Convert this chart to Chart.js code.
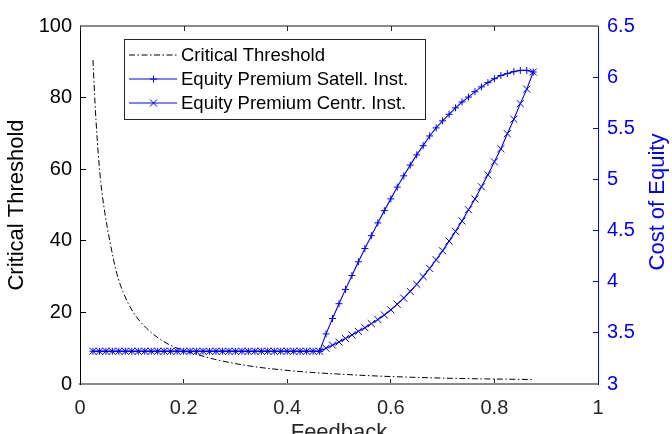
<!DOCTYPE html>
<html>
<head>
<meta charset="utf-8">
<script src="https://cdn.jsdelivr.net/npm/chart.js@4.4.0/dist/chart.umd.min.js"></script>
<style>
  html, body { margin: 0; padding: 0; background: #fff; overflow: hidden; }
</style>
</head>
<body>
<canvas id="chart" width="672" height="434"></canvas>
<script>
"use strict";

// critical threshold curve (left axis)
var ctX = [0.025, 0.029, 0.0335, 0.04, 0.048, 0.058, 0.071, 0.084, 0.103, 0.129, 0.161,
           0.193, 0.225, 0.257, 0.322, 0.386, 0.45, 0.515, 0.579, 0.714, 0.875];
var ctY = [90.5, 78.5, 67.8, 56.5, 47.8, 39.6, 30.9, 25.4, 20.0, 15.5, 11.9,
           9.7, 8.3, 7.0, 5.15, 4.0, 3.2, 2.65, 2.2, 1.6, 1.25];

// feedback values for the two equity premium series (right axis)
var feedback = [0.025, 0.0375, 0.05, 0.0625, 0.075, 0.0875, 0.1, 0.1125, 0.125, 0.1375,
                0.15, 0.1625, 0.175, 0.1875, 0.2, 0.2125, 0.225, 0.2375, 0.25, 0.2625,
                0.275, 0.2875, 0.3, 0.3125, 0.325, 0.3375, 0.35, 0.3625, 0.375, 0.3875,
                0.4, 0.4125, 0.425, 0.4375, 0.45, 0.4625, 0.475, 0.4875, 0.5, 0.5125,
                0.525, 0.5375, 0.55, 0.5625, 0.575, 0.5875, 0.6, 0.6125, 0.625, 0.6375,
                0.65, 0.6625, 0.675, 0.6875, 0.7, 0.7125, 0.725, 0.7375, 0.75, 0.7625,
                0.775, 0.7875, 0.8, 0.8125, 0.825, 0.8375, 0.85, 0.8625, 0.875];

var satell = [3.32, 3.32, 3.32, 3.32, 3.32, 3.32, 3.32, 3.32, 3.32, 3.32,
              3.32, 3.32, 3.32, 3.32, 3.32, 3.32, 3.32, 3.32, 3.32, 3.32,
              3.32, 3.32, 3.32, 3.32, 3.32, 3.32, 3.32, 3.32, 3.32, 3.32,
              3.32, 3.32, 3.32, 3.32, 3.32, 3.32, 3.49, 3.64, 3.785, 3.925,
              4.06, 4.195, 4.325, 4.45, 4.575, 4.695, 4.81, 4.925, 5.035, 5.14,
              5.24, 5.33, 5.425, 5.504, 5.573, 5.637, 5.70, 5.757, 5.805, 5.858,
              5.905, 5.947, 5.985, 6.016, 6.035, 6.054, 6.066, 6.066, 6.05];

var centr = [3.32, 3.32, 3.32, 3.32, 3.32, 3.32, 3.32, 3.32, 3.32, 3.32,
             3.32, 3.32, 3.32, 3.32, 3.32, 3.32, 3.32, 3.32, 3.32, 3.32,
             3.32, 3.32, 3.32, 3.32, 3.32, 3.32, 3.32, 3.32, 3.32, 3.32,
             3.32, 3.32, 3.32, 3.32, 3.32, 3.32, 3.35, 3.38, 3.41, 3.445,
             3.48, 3.515, 3.55, 3.59, 3.63, 3.675, 3.725, 3.78, 3.84, 3.905,
             3.975, 4.05, 4.13, 4.215, 4.302, 4.397, 4.492, 4.594, 4.704, 4.809,
             4.928, 5.046, 5.172, 5.30, 5.447, 5.589, 5.741, 5.883, 6.05];

var xTicks = [0, 0.2, 0.4, 0.6, 0.8, 1];
var xTickLabels = ["0", "0.2", "0.4", "0.6", "0.8", "1"];
var yTicks = [0, 20, 40, 60, 80, 100];
var y2Ticks = [3, 3.5, 4, 4.5, 5, 5.5, 6, 6.5];
var y2TickLabels = ["3", "3.5", "4", "4.5", "5", "5.5", "6", "6.5"];

var seriesNames = ["Critical Threshold", "Equity Premium Satell. Inst.", "Equity Premium Centr. Inst."];

var FONT = "'Liberation Sans', Arial, Helvetica, sans-serif";
var BLUE = "#0000ff";
var legendColors = ["#000000", BLUE, BLUE];
var legendMarkers = [null, "cross", "crossRot"];

function pairs(xs, ys) {
    return xs.map(function (x, i) { return { x: x, y: ys[i] }; });
}

function drawMarker(ctx, style, x, y, r) {
    ctx.beginPath();
    if (style === "cross") {
        ctx.moveTo(x - r, y); ctx.lineTo(x + r, y);
        ctx.moveTo(x, y - r); ctx.lineTo(x, y + r);
    } else {
        var d = r * Math.SQRT1_2;
        ctx.moveTo(x - d, y - d); ctx.lineTo(x + d, y + d);
        ctx.moveTo(x - d, y + d); ctx.lineTo(x + d, y - d);
    }
    ctx.stroke();
}

// top box line with inward ticks, right axis title, boxed legend
var decorations = {
    id: "decorations",
    afterDraw: function (chart) {
        var ctx = chart.ctx;
        var area = chart.chartArea;
        var xs = chart.scales.x;

        ctx.save();
        ctx.strokeStyle = "#8a8a8a";
        ctx.lineWidth = 2;
        ctx.beginPath();
        ctx.moveTo(area.left, area.top);
        ctx.lineTo(area.right, area.top);
        ctx.stroke();

        ctx.strokeStyle = "#262626";
        ctx.lineWidth = 1;
        xTicks.forEach(function (v) {
            var px = Math.round(xs.getPixelForValue(v)) + 0.5;
            ctx.beginPath();
            ctx.moveTo(px, area.top);
            ctx.lineTo(px, area.top + 5);
            ctx.stroke();
        });

        // right title reads bottom to top like the left one
        ctx.translate(chart.scales.y2.left + 60, (area.top + area.bottom) / 2 - 3);
        ctx.rotate(-Math.PI / 2);
        ctx.fillStyle = BLUE;
        ctx.font = "22px " + FONT;
        ctx.textAlign = "center";
        ctx.textBaseline = "middle";
        ctx.fillText("Cost of Equity", 0, 0);
        ctx.restore();

        // legend
        var bx = area.left + 44, by = area.top + 13, bw = 301, bh = 80;
        ctx.save();
        ctx.fillStyle = "#fff";
        ctx.fillRect(bx, by, bw, bh);
        ctx.strokeStyle = "#262626";
        ctx.lineWidth = 1;
        ctx.strokeRect(bx + 0.5, by + 0.5, bw, bh);

        ctx.font = "18.5px " + FONT;
        ctx.textBaseline = "middle";
        ctx.textAlign = "left";
        seriesNames.forEach(function (name, i) {
            var ds = chart.data.datasets[i];
            var ly = Math.round(by + 16 + i * 24);
            ctx.strokeStyle = legendColors[i];
            ctx.lineWidth = 1.1;
            ctx.setLineDash(i === 0 ? ds.borderDash : []);
            ctx.beginPath();
            ctx.moveTo(bx + 5, ly);
            ctx.lineTo(bx + 53, ly);
            ctx.stroke();
            ctx.setLineDash([]);
            if (legendMarkers[i]) {
                ctx.lineWidth = 1;
                drawMarker(ctx, legendMarkers[i], bx + 29.5, ly, ds.pointRadius);
            }
            ctx.fillStyle = "#000";
            ctx.fillText(name, bx + 57, ly + 1);
        });
        ctx.restore();
    }
};

new Chart(document.getElementById("chart"), {
    type: "line",
    data: {
        datasets: [
            {
                label: seriesNames[0],
                data: pairs(ctX, ctY),
                yAxisID: "y",
                borderColor: "#000000",
                borderWidth: 1,
                borderDash: [6, 2.5, 1.5, 2.5],
                pointRadius: 0,
                cubicInterpolationMode: "monotone",
                order: 3
            },
            {
                label: seriesNames[1],
                data: pairs(feedback, satell),
                yAxisID: "y2",
                borderColor: BLUE,
                borderWidth: 1.1,
                pointStyle: "cross",
                pointRadius: 3.5,
                pointBorderWidth: 1,
                pointBorderColor: BLUE,
                pointBackgroundColor: BLUE,
                order: 2
            },
            {
                label: seriesNames[2],
                data: pairs(feedback, centr),
                yAxisID: "y2",
                borderColor: BLUE,
                borderWidth: 1.1,
                pointStyle: "crossRot",
                pointRadius: 5,
                pointBorderWidth: 1,
                pointBorderColor: BLUE,
                pointBackgroundColor: BLUE,
                order: 1
            }
        ]
    },
    options: {
        responsive: false,
        animation: false,
        devicePixelRatio: 1,
        layout: { padding: { top: 14, left: 0, right: 0, bottom: 0 } },
        plugins: { legend: { display: false }, tooltip: { enabled: false } },
        scales: {
            x: {
                type: "linear",
                min: 0,
                max: 1,
                afterBuildTicks: function (s) { s.ticks = xTicks.map(function (v) { return { value: v }; }); },
                afterFit: function (s) { s.height = 50; },
                ticks: {
                    callback: function (v, i) { return xTickLabels[i]; },
                    font: { size: 20, family: FONT },
                    color: "#262626",
                    padding: 17,
                    maxRotation: 0,
                    autoSkip: false
                },
                grid: { drawOnChartArea: false, tickLength: -5, color: "#262626" },
                border: { color: "#8a8a8a", width: 2 },
                title: {
                    display: true,
                    text: "Feedback",
                    font: { size: 22, family: FONT },
                    color: "#262626",
                    padding: { top: 0, bottom: -12 }
                }
            },
            y: {
                position: "left",
                min: 0,
                max: 100,
                afterBuildTicks: function (s) { s.ticks = yTicks.map(function (v) { return { value: v }; }); },
                afterFit: function (s) { s.width = 80; },
                ticks: { font: { size: 20, family: FONT }, color: "#000", padding: 14 },
                grid: { drawOnChartArea: false, tickLength: -6, color: "#000" },
                border: { color: "#000", width: 1 },
                title: {
                    display: true,
                    text: "Critical Threshold",
                    font: { size: 22, family: FONT },
                    color: "#000",
                    padding: { top: 4, bottom: 0 }
                }
            },
            y2: {
                position: "right",
                min: 3,
                max: 6.5,
                afterBuildTicks: function (s) { s.ticks = y2Ticks.map(function (v) { return { value: v }; }); },
                afterFit: function (s) { s.width = 74; },
                ticks: {
                    callback: function (v, i) { return y2TickLabels[i]; },
                    font: { size: 20, family: FONT },
                    color: BLUE,
                    padding: 14
                },
                grid: { drawOnChartArea: false, tickLength: -5, color: BLUE },
                border: { color: BLUE, width: 1 }
            }
        }
    },
    plugins: [decorations]
});
</script>
</body>
</html>
